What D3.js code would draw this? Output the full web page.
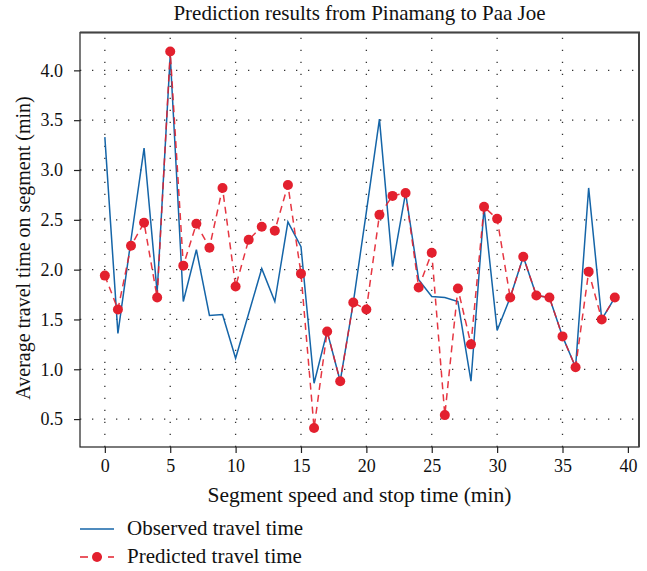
<!DOCTYPE html>
<html lang="en">
<head>
    <meta charset="UTF-8">
    <title>Prediction results</title>
    <script src="https://cdn.jsdelivr.net/npm/d3@7/dist/d3.min.js"></script>
    <style>
        body { margin: 0; background: #fff; }
        text { font-family: "Liberation Serif", "DejaVu Serif", serif; fill: #111; }
    </style>
</head>
<body>
<script>
    // data
    let segments = d3.range(0, 40)
    let observed = [3.33, 1.36, 2.30, 3.22, 1.77, 4.15, 1.68, 2.20, 1.54, 1.55,
                    1.11, 1.56, 2.01, 1.68, 2.48, 2.23, 0.86, 1.38, 0.88, 1.67,
                    2.58, 3.51, 2.03, 2.77, 1.90, 1.73, 1.72, 1.68, 0.88, 2.62,
                    1.39, 1.72, 2.13, 1.74, 1.72, 1.33, 1.02, 2.82, 1.50, 1.72]
    let predicted = [1.94, 1.60, 2.24, 2.47, 1.72, 4.19, 2.04, 2.46, 2.22, 2.82,
                     1.83, 2.30, 2.43, 2.39, 2.85, 1.96, 0.41, 1.38, 0.88, 1.67,
                     1.60, 2.55, 2.74, 2.77, 1.82, 2.17, 0.54, 1.81, 1.25, 2.63,
                     2.51, 1.72, 2.13, 1.74, 1.72, 1.33, 1.02, 1.98, 1.50, 1.72]
    let x_ticks = [0, 5, 10, 15, 20, 25, 30, 35, 40]
    let y_ticks = [0.5, 1.0, 1.5, 2.0, 2.5, 3.0, 3.5, 4.0]
    let series_names = ["Observed travel time", "Predicted travel time"]

    let W = 647, H = 571
    let plot_left = 80, plot_right = 639, plot_top = 32.5, plot_bottom = 447
    let blue = '#1565a8', red = '#e3202e'

    let svg = d3.select('body').append('svg')
        .attr('width', W).attr('height', H)

    let xScale = d3.scaleLinear().domain([-1.9, 40.85]).range([plot_left, plot_right])
    let yScale = d3.scaleLinear().domain([0.22, 4.38]).range([plot_bottom, plot_top])

    // dotted grid
    svg.append('g').selectAll('line').data(x_ticks.slice(0, -1)).enter().append('line')
        .attr('x1', d => xScale(d)).attr('x2', d => xScale(d))
        .attr('y1', plot_bottom).attr('y2', plot_top)
        .attr('stroke', '#333').attr('stroke-width', 1.3)
        .attr('stroke-dasharray', '1.3,10.7')
    svg.append('g').selectAll('line').data(y_ticks).enter().append('line')
        .attr('x1', plot_left).attr('x2', plot_right)
        .attr('y1', d => yScale(d)).attr('y2', d => yScale(d))
        .attr('stroke', '#333').attr('stroke-width', 1.3)
        .attr('stroke-dasharray', '1.3,10.7')

    // observed line
    let line_gen = d3.line().x((d, i) => xScale(segments[i])).y(d => yScale(d))
    svg.append('path').datum(observed)
        .attr('d', line_gen)
        .attr('fill', 'none').attr('stroke', blue).attr('stroke-width', 1.5)

    // predicted dashed line + dots
    svg.append('path').datum(predicted)
        .attr('d', line_gen)
        .attr('fill', 'none').attr('stroke', red).attr('stroke-width', 1.5)
        .attr('stroke-opacity', 0.9)
        .attr('stroke-dasharray', '7,5')
    svg.append('g').selectAll('circle').data(predicted).enter().append('circle')
        .attr('cx', (d, i) => xScale(segments[i]))
        .attr('cy', d => yScale(d))
        .attr('r', 5)
        .attr('fill', red)

    // frame
    svg.append('rect')
        .attr('x', plot_left).attr('y', plot_top)
        .attr('width', plot_right - plot_left).attr('height', plot_bottom - plot_top)
        .attr('fill', 'none').attr('stroke', '#222').attr('stroke-width', 1.2)
    svg.append('path')
        .attr('d', 'M' + plot_left + ',' + plot_top + 'H' + plot_right + 'V' + plot_bottom)
        .attr('fill', 'none').attr('stroke', '#444').attr('stroke-width', 2)

    // axes
    let xAxis = svg.append('g')
        .attr('transform', 'translate(0,' + plot_bottom + ')')
        .call(d3.axisBottom(xScale).tickValues(x_ticks).tickSize(6).tickSizeOuter(0).tickPadding(6))
    let yAxis = svg.append('g')
        .attr('transform', 'translate(' + plot_left + ',0)')
        .call(d3.axisLeft(yScale).tickValues(y_ticks).tickFormat(d3.format('.1f'))
            .tickSize(6).tickSizeOuter(0).tickPadding(11))
    xAxis.select('.domain').remove()
    yAxis.select('.domain').remove()
    svg.selectAll('.tick line').attr('stroke', '#222').attr('stroke-width', 1.2)
    svg.selectAll('.tick text')
        .style('font-family', '"Liberation Serif", serif')
        .style('font-size', '18px').attr('fill', '#111')

    // titles
    svg.append('text')
        .attr('x', (plot_left + plot_right) / 2).attr('y', 20)
        .attr('text-anchor', 'middle').style('font-size', '21px')
        .text('Prediction results from Pinamang to Paa Joe')
    svg.append('text')
        .attr('x', (plot_left + plot_right) / 2).attr('y', 502)
        .attr('text-anchor', 'middle').style('font-size', '21.5px')
        .text('Segment speed and stop time (min)')
    svg.append('text')
        .attr('transform', 'translate(30,' + 248 + ') rotate(-90)')
        .attr('text-anchor', 'middle').style('font-size', '20px')
        .text('Average travel time on segment (min)')

    // legend
    let legend = svg.append('g')
    legend.append('line')
        .attr('x1', 80).attr('x2', 114).attr('y1', 529).attr('y2', 529)
        .attr('stroke', blue).attr('stroke-width', 1.5)
    legend.append('line')
        .attr('x1', 80).attr('x2', 114).attr('y1', 557).attr('y2', 557)
        .attr('stroke', red).attr('stroke-width', 1.5)
        .attr('stroke-dasharray', '8,6')
    legend.append('circle')
        .attr('cx', 97).attr('cy', 557).attr('r', 5).attr('fill', red)
    legend.selectAll('text.lg').data(series_names).enter().append('text')
        .attr('class', 'lg')
        .attr('x', 127).attr('y', (d, i) => 535 + i * 28)
        .style('font-size', '21px')
        .text(d => d)
</script>
</body>
</html>
